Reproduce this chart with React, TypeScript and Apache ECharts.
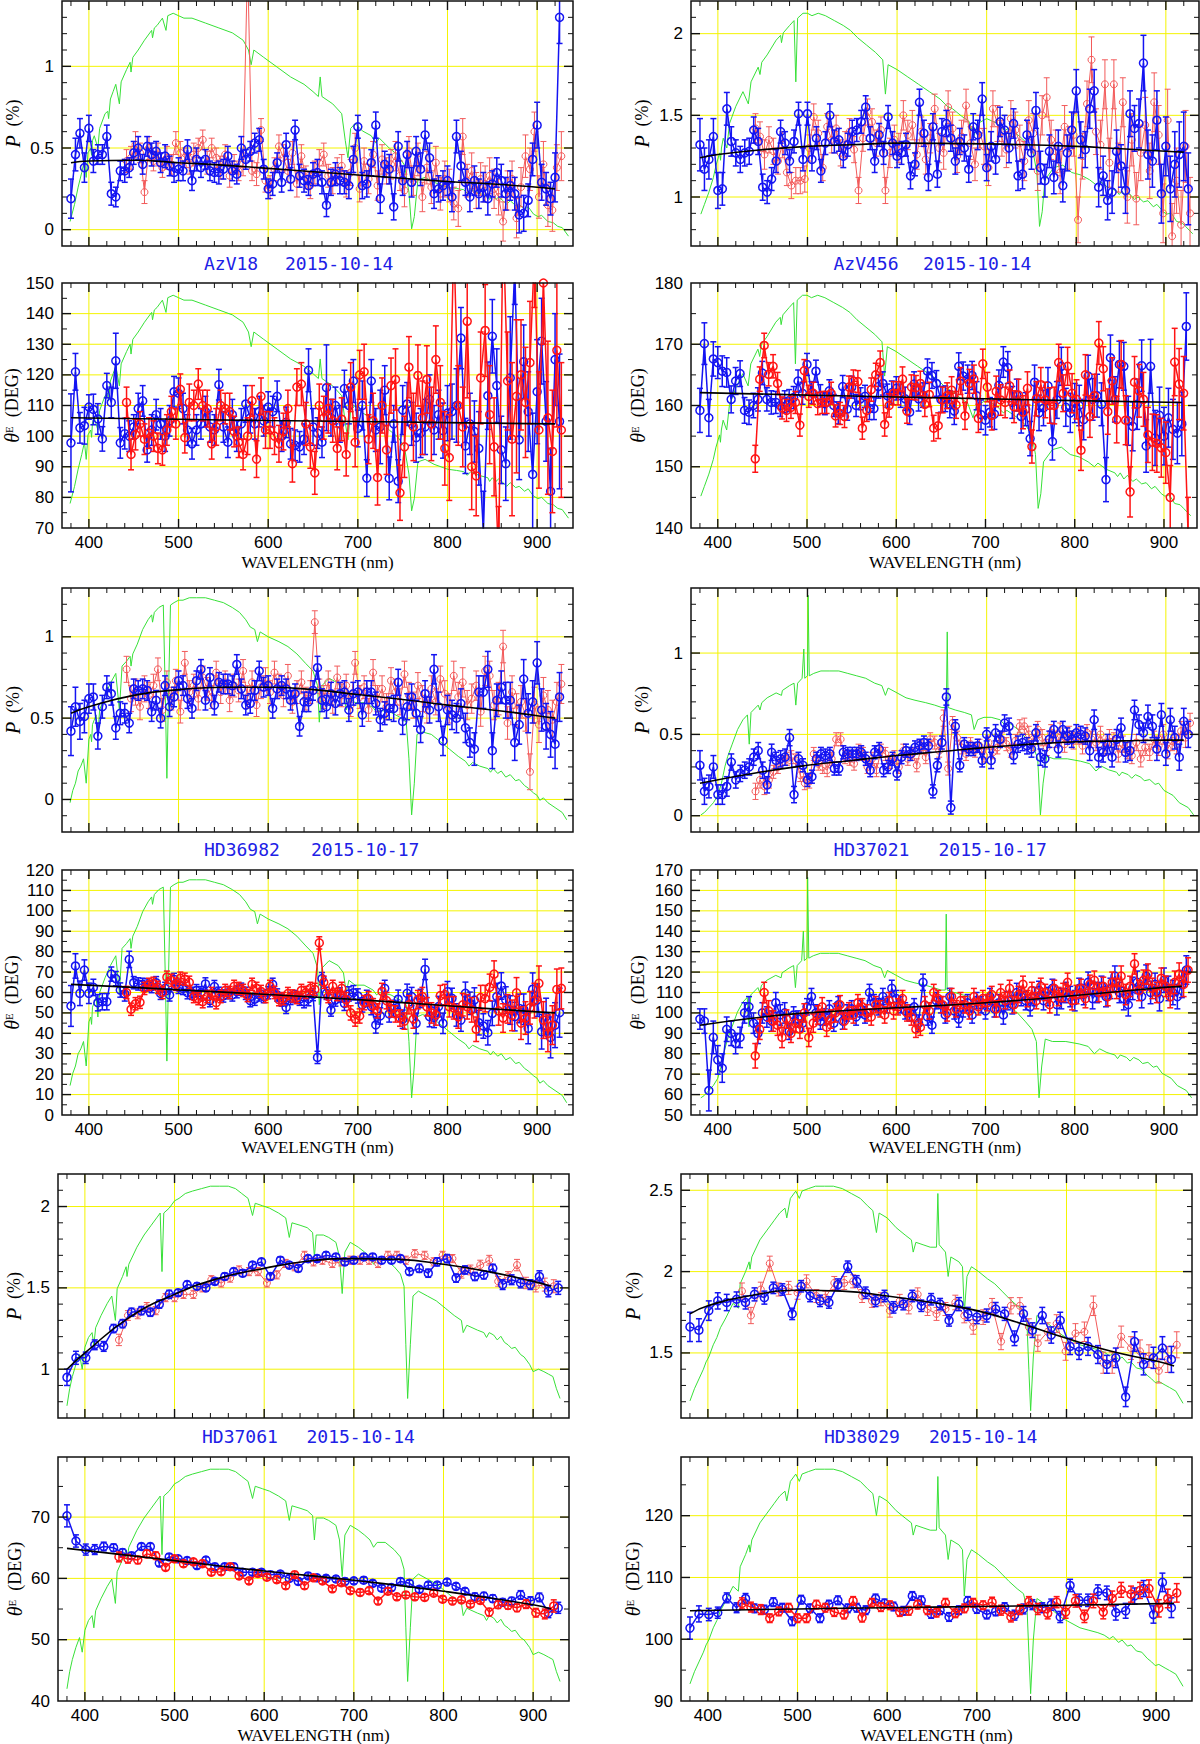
import React, { useEffect, useRef } from "react";
import * as echarts from "echarts";

// ---------------- wavelength grids (nm) ----------------
const WL5 = [
  380, 385, 390, 395, 400, 405, 410, 415, 420, 425, 430, 435, 440, 445, 450, 455, 460, 465, 470, 475,
  480, 485, 490, 495, 500, 505, 510, 515, 520, 525, 530, 535, 540, 545, 550, 555, 560, 565, 570, 575,
  580, 585, 590, 595, 600, 605, 610, 615, 620, 625, 630, 635, 640, 645, 650, 655, 660, 665, 670, 675,
  680, 685, 690, 695, 700, 705, 710, 715, 720, 725, 730, 735, 740, 745, 750, 755, 760, 765, 770, 775,
  780, 785, 790, 795, 800, 805, 810, 815, 820, 825, 830, 835, 840, 845, 850, 855, 860, 865, 870, 875,
  880, 885, 890, 895, 900, 905, 910, 915, 920, 925,
];
const WL5R = [
  442, 447, 452, 457, 462, 467, 472, 477, 482, 487, 492, 497, 502, 507, 512, 517, 522, 527, 532, 537,
  542, 547, 552, 557, 562, 567, 572, 577, 582, 587, 592, 597, 602, 607, 612, 617, 622, 627, 632, 637,
  642, 647, 652, 657, 662, 667, 672, 677, 682, 687, 692, 697, 702, 707, 712, 717, 722, 727, 732, 737,
  742, 747, 752, 757, 762, 767, 772, 777, 782, 787, 792, 797, 802, 807, 812, 817, 822, 827, 832, 837,
  842, 847, 852, 857, 862, 867, 872, 877, 882, 887, 892, 897, 902, 907, 912, 917, 922, 927,
];
const WL10B = [
  380, 390, 401, 411, 421, 432, 442, 452, 463, 473, 483, 494, 504, 514, 525, 535, 545, 556, 566, 576,
  587, 597, 607, 618, 628, 638, 649, 659, 669, 680, 690, 700, 711, 721, 731, 742, 752, 762, 773, 783,
  793, 804, 814, 824, 835, 845, 855, 866, 876, 886, 897, 907, 917, 928,
];
const WL10R = [
  438, 448, 459, 469, 479, 490, 500, 510, 521, 531, 541, 552, 562, 572, 583, 593, 603, 614, 624, 634,
  645, 655, 665, 676, 686, 696, 707, 717, 727, 738, 748, 758, 768, 779, 789, 799, 810, 820, 830, 841,
  851, 861, 872, 882, 892, 903, 913, 923,
];

// ---------------- AzV18 ----------------
const AZV18_P_B = [
  .19, .46, .59, .38, .62, .42, .46, .46, .57, .22, .20, .36, .36, .38, .47, .50, .40, .51, .46, .48,
  .41, .45, .39, .35, .37, .36, .49, .30, .43, .38, .43, .36, .35, .35, .37, .45, .36, .34, .50, .43,
  .48, .53, .55, .37, .25, .28, .41, .29, .52, .31, .61, .33, .30, .27, .34, .35, .29, .15, .29, .34,
  .30, .29, .27, .43, .63, .27, .28, .41, .64, .19, .40, .37, .14, .51, .30, .46, .29, .48, .37, .58,
  .44, .22, .25, .27, .30, .20, .57, .39, .29, .20, .30, .22, .26, .19, .28, .35, .30, .22, .27, .22,
  .09, .10, .18, .43, .64, .29, .25, .19, .32, 1.30,
];
const AZV18_P_BE = [
  .12, .10, .09, .09, .08, .07, .06, .06, .07, .07, .06, .06, .07, .06, .07, .07, .06, .06, .07, .06,
  .06, .07, .06, .06, .07, .06, .06, .06, .07, .06, .06, .06, .06, .07, .06, .06, .06, .06, .07, .06,
  .06, .06, .07, .06, .06, .07, .06, .06, .07, .07, .06, .07, .07, .06, .07, .08, .07, .07, .08, .07,
  .08, .07, .08, .08, .07, .08, .08, .08, .08, .09, .08, .09, .08, .09, .09, .08, .09, .09, .10, .09,
  .09, .09, .08, .09, .09, .09, .10, .09, .08, .09, .09, .09, .09, .10, .08, .09, .10, .10, .09, .10,
  .11, .11, .10, .10, .14, .11, .10, .10, .15, .16,
];
const AZV18_P_R = [
  .42, .44, .52, .47, .23, .50, .42, .46, .38, .44, .40, .53, .47, .44, .40, .46, .50, .55, .41, .50,
  .44, .38, .46, .33, .40, .36, .40, 1.65, .36, .34, .61, .30, .26, .37, .51, .44, .36, .47, .28, .45,
  .32, .27, .35, .41, .46, .33, .30, .36, .39, .28, .35, .50, .25, .42, .31, .46, .27, .43, .36, .40,
  .45, .33, .24, .48, .30, .43, .20, .38, .26, .41, .22, .31, .27, .16, .13, .57, .30, .36, .24, .31,
  .28, .33, .25, .20, .05, .24, .31, .07, .26, .45, .37, .60, .20, .40, .15, .12, .38, .45,
];
const AZV18_P_RE = [
  .07, .07, .08, .06, .07, .07, .06, .07, .06, .07, .06, .07, .07, .06, .06, .07, .06, .06, .07, .06,
  .06, .07, .06, .07, .06, .06, .07, .07, .06, .07, .07, .07, .07, .07, .07, .08, .07, .07, .08, .07,
  .07, .08, .07, .08, .07, .07, .08, .08, .07, .08, .08, .09, .08, .08, .09, .08, .09, .09, .08, .09,
  .09, .09, .10, .09, .09, .10, .09, .10, .10, .10, .10, .11, .10, .10, .11, .11, .10, .11, .11, .10,
  .11, .11, .12, .11, .12, .12, .11, .12, .12, .13, .13, .12, .13, .14, .13, .13, .14, .15,
];
const AZV18_T_B = [
  97.8, 121, 102.7, 103.4, 109.5, 108.7, 105.6, 99.1, 116.5, 111, 124.6, 97.8, 100.8, 100, 103, 109, 111.5, 95.5, 102, 107,
  104, 100, 105, 114.5, 114, 109, 102, 97.5, 102, 104, 108, 103, 102, 116.8, 103, 98, 107, 100, 104, 110.5,
  106, 104, 108, 105, 109.5, 108, 113, 100, 104.5, 97.5, 97, 96.5, 99, 121.5, 103, 101, 98, 115.8, 106, 110,
  104, 115.5, 110, 118, 102.5, 110, 86.3, 118, 102, 103, 115, 86.2, 104, 85.3, 108.5, 110.5, 104, 99.5, 101, 103,
  112, 102, 107, 101.8, 107.5, 108, 110, 132, 96.8, 104, 101.5, 96, 69, 113.2, 132.6, 116.5, 95.5, 91, 119, 155,
  98.8, 124.3, 108, 87.5, 114.5, 131, 104.8, 82, 125, 104.8,
];
const AZV18_T_BE = [
  16, 6, 5, 6, 4, 5, 5, 4, 4, 5, 9, 5, 5, 5, 4, 5, 5, 4, 5, 5,
  5, 5, 5, 5, 5, 5, 5, 5, 5, 5, 5, 5, 5, 5, 5, 5, 5, 5, 5, 6,
  5, 5, 5, 5, 5, 5, 5, 5, 5, 5, 5, 5, 5, 7, 6, 5, 5, 14, 6, 6,
  6, 6, 6, 7, 6, 8, 6, 7, 7, 12, 8, 7, 6, 7, 8, 7, 7, 8, 8, 9,
  8, 8, 8, 9, 9, 9, 12, 10, 9, 10, 10, 12, 13, 11, 12, 12, 11, 12, 20, 12,
  13, 12, 13, 20, 17, 14, 13, 14, 15, 22,
];
const AZV18_T_R = [
  111, 94, 100.5, 104, 99, 101, 100, 96, 95.5, 102, 108, 104, 115.3, 99.5, 111, 110, 117, 110, 109, 97.5,
  103, 110, 109, 108, 101.5, 98, 94, 100, 111.5, 92.5, 113, 102, 102, 100, 97.5, 101.5, 109, 91, 116, 117,
  104, 96.5, 88, 110, 106, 109, 105, 96, 105.5, 94, 116, 98, 120, 121, 99, 105, 86.5, 110, 95.5, 116.5,
  118.5, 81.5, 96.5, 122.5, 103, 119.8, 106, 118.5, 104, 125, 111, 96, 93, 165, 110, 103, 137.5, 90, 87, 119,
  134.5, 107, 96.5, 60, 170, 118, 99, 113, 120, 111, 124, 160, 102, 150, 106, 95, 128, 102,
];
const AZV18_T_RE = [
  5, 5, 5, 4, 5, 5, 5, 5, 5, 5, 5, 5, 5, 5, 6, 5, 5, 5, 6, 5,
  6, 5, 5, 6, 5, 5, 5, 6, 5, 6, 6, 6, 6, 6, 6, 6, 6, 6, 6, 7,
  7, 7, 7, 7, 7, 8, 7, 7, 7, 7, 8, 8, 8, 9, 8, 9, 9, 9, 8, 9,
  10, 9, 10, 10, 11, 10, 12, 11, 12, 11, 12, 12, 14, 12, 13, 13, 25, 14, 13, 15,
  15, 16, 16, 17, 15, 16, 25, 25, 18, 18, 20, 18, 19, 20, 25, 20, 25, 22,
];

// ---------------- AzV456 ----------------
const AZV456_P_B = [
  1.32, 1.17, 1.23, 1.37, 1.04, 1.05, 1.54, 1.34, 1.27, 1.23, 1.27, 1.28, 1.41, 1.34, 1.06, 1.03, 1.11, 1.22, 1.40, 1.33,
  1.22, 1.34, 1.51, 1.23, 1.51, 1.23, 1.36, 1.16, 1.33, 1.50, 1.34, 1.35, 1.25, 1.32, 1.40, 1.41, 1.46, 1.55, 1.36, 1.22,
  1.38, 1.27, 1.49, 1.33, 1.25, 1.27, 1.32, 1.13, 1.20, 1.58, 1.39, 1.12, 1.43, 1.14, 1.40, 1.45, 1.36, 1.22, 1.34, 1.30,
  1.17, 1.43, 1.38, 1.60, 1.18, 1.31, 1.23, 1.46, 1.41, 1.30, 1.45, 1.13, 1.14, 1.38, 1.27, 1.53, 1.18, 1.10, 1.28, 1.12,
  1.31, 1.07, 1.27, 1.41, 1.65, 1.35, 1.29, 1.54, 1.65, 1.06, 1.13, 0.98, 1.03, 1.28, 1.19, 1.04, 1.51, 1.42, 1.45, 1.82,
  1.26, 1.22, 1.47, 1.02, 1.31, 1.05, 1.20, 1.26, 1.31, 1.05,
];
const AZV456_P_BE = [
  .16, .13, .12, .11, .11, .10, .10, .09, .08, .08, .08, .08, .08, .08, .08, .07, .07, .07, .07, .07,
  .07, .07, .07, .07, .07, .07, .07, .07, .07, .07, .07, .07, .07, .07, .07, .07, .07, .07, .07, .07,
  .07, .07, .07, .07, .07, .07, .07, .08, .07, .08, .08, .08, .08, .08, .08, .08, .08, .08, .08, .08,
  .08, .08, .09, .10, .08, .09, .09, .09, .09, .09, .09, .09, .09, .09, .10, .11, .10, .10, .10, .10,
  .10, .10, .11, .11, .13, .11, .11, .12, .13, .12, .12, .12, .13, .13, .13, .14, .14, .14, .15, .17,
  .15, .16, .18, .18, .18, .20, .20, .20, .21, .22,
];
const AZV456_P_R = [
  1.42, 1.37, 1.26, 1.35, 1.28, 1.22, 1.32, 1.15, 1.07, 1.10, 1.10, 1.11, 1.30, 1.49, 1.39, 1.18, 1.43, 1.35, 1.42, 1.27,
  1.32, 1.40, 1.29, 1.04, 1.36, 1.52, 1.46, 1.33, 1.41, 1.04, 1.27, 1.35, 1.30, 1.50, 1.38, 1.44, 1.26, 1.40, 1.23, 1.36,
  1.54, 1.30, 1.27, 1.55, 1.42, 1.25, 1.37, 1.56, 1.33, 1.20, 1.40, 1.31, 1.18, 1.54, 1.45, 1.36, 1.29, 1.48, 1.41, 1.33,
  1.22, 1.47, 1.39, 1.16, 1.50, 1.61, 1.35, 1.28, 1.15, 1.43, 1.30, 1.38, 0.86, 1.25, 1.57, 1.84, 1.40, 1.32, 1.69, 1.21,
  1.69, 1.18, 1.58, 1.00, 1.35, 0.99, 1.27, 1.44, 1.16, 1.58, 1.38, 0.90, 1.47, 0.76, 1.10, 0.83, 1.31, 0.90,
];
const AZV456_P_RE = [
  .09, .09, .09, .08, .08, .08, .08, .08, .08, .08, .08, .08, .08, .08, .08, .08, .08, .08, .08, .08,
  .08, .08, .08, .08, .08, .08, .08, .08, .08, .08, .09, .09, .09, .09, .09, .09, .09, .09, .09, .09,
  .09, .09, .10, .10, .10, .10, .10, .10, .10, .10, .10, .11, .11, .11, .11, .11, .11, .11, .11, .11,
  .12, .12, .12, .12, .12, .12, .12, .13, .13, .13, .13, .13, .14, .14, .14, .14, .14, .15, .15, .15,
  .15, .15, .15, .16, .16, .16, .17, .17, .17, .18, .18, .18, .19, .20, .20, .21, .22, .22,
];
const AZV456_T_B = [
  159.2, 170.1, 158, 167.6, 167, 165.6, 165.4, 161, 164, 165.2, 159.2, 158.9, 160, 161, 165.3, 161, 160.5, 160.5, 160, 160.6,
  160.8, 161.3, 164, 162, 166.7, 162.1, 165.6, 161.6, 160.3, 162.4, 160, 158.8, 163.1, 159.4, 163, 160, 161.1, 161.5, 159.5, 159.5,
  163.1, 163.6, 161.6, 162.1, 162.8, 161.6, 161.1, 158.9, 163.5, 161.1, 161.7, 165.6, 164.9, 163.6, 161, 161.1, 160.2, 159.1, 166.4, 164.8,
  164.3, 164.9, 161.6, 158.5, 157.6, 158.9, 158.6, 163.3, 167.1, 166.2, 160.5, 161.7, 158.2, 159.4, 154.6, 163.8, 158.8, 159.6, 163.2, 154.1,
  160.9, 166.4, 159.7, 158.8, 160.4, 160, 157.7, 164.8, 161, 161.6, 160.2, 147.9, 167.8, 161, 166.7, 166.4, 157.5, 156.6, 160.2, 166.5,
  153.4, 166.4, 154.7, 158.4, 155, 158, 156.1, 155.5, 157, 172.9,
];
const AZV456_T_BE = [
  3.6, 3.4, 3, 2.8, 2.6, 2.5, 2.4, 2.2, 2.2, 2.1, 2.1, 2, 2, 1.9, 1.9, 1.9, 1.9, 1.8, 1.8, 1.8,
  1.8, 1.8, 1.8, 1.8, 1.8, 1.8, 1.8, 1.8, 1.8, 1.8, 1.8, 1.8, 1.8, 1.8, 1.8, 1.8, 1.8, 1.8, 1.8, 1.8,
  1.9, 1.9, 1.9, 1.9, 1.9, 1.9, 1.9, 2, 2, 2, 2, 2, 2.1, 2.1, 2.1, 2.1, 2.2, 2.2, 2.2, 2.3,
  2.3, 2.3, 2.3, 2.4, 2.4, 2.4, 2.5, 2.5, 2.5, 2.6, 2.6, 2.6, 2.7, 2.7, 2.8, 2.8, 2.9, 2.9, 3, 3,
  3, 3.1, 3.1, 3.2, 3.2, 3.3, 3.3, 3.4, 3.4, 3.5, 3.5, 3.6, 3.7, 3.7, 3.8, 3.9, 4, 4, 4.1, 4.2,
  4.3, 4.4, 4.5, 4.6, 4.7, 4.8, 4.9, 5, 5.2, 5.5,
];
const AZV456_T_R = [
  151.3, 164.3, 169.8, 165.1, 166.4, 163.6, 159.6, 159.2, 159.7, 160.5, 156.8, 165.7, 161.5, 162, 160.3, 160.5, 160.5, 162, 158.3, 158.7,
  158.2, 163, 164, 163.9, 156.3, 159.2, 162.6, 165, 167, 156.9, 160, 162, 162, 164.3, 159.1, 163, 162.9, 163.6, 160.2, 161.8,
  156.3, 156.7, 160.9, 161.6, 162.5, 160.1, 164, 158.3, 163.6, 164.3, 157.9, 166.8, 163, 158.4, 162.3, 160.9, 160.5, 163.2, 159.8, 161.7,
  158.9, 162.8, 153.3, 161.1, 163.4, 160.9, 160, 160, 167, 162, 166.4, 162, 161, 152.7, 165, 158.2, 161.6, 170.2, 166, 159,
  164, 157.7, 166.7, 157.6, 145.9, 163.8, 162.4, 161, 155.2, 154, 153.8, 153.1, 152.3, 145, 167.1, 163.5, 162, 139,
];
const AZV456_T_RE = [
  2.2, 2, 2, 1.9, 1.9, 1.8, 1.8, 1.8, 1.8, 1.8, 1.8, 1.8, 1.8, 1.8, 1.8, 1.8, 1.8, 1.8, 1.8, 1.8,
  1.8, 1.8, 1.8, 1.8, 1.8, 1.8, 1.9, 1.9, 1.9, 1.9, 1.9, 1.9, 1.9, 2, 2, 2, 2, 2, 2, 2,
  2.1, 2.1, 2.1, 2.1, 2.2, 2.2, 2.2, 2.2, 2.3, 2.3, 2.3, 2.4, 2.4, 2.4, 2.5, 2.5, 2.5, 2.6, 2.6, 2.6,
  2.7, 2.7, 2.7, 2.8, 2.8, 2.9, 2.9, 3, 3, 3, 3.1, 3.2, 3.2, 3.3, 3.3, 3.4, 3.5, 3.5, 3.6, 3.7,
  3.8, 3.8, 3.9, 4, 4.1, 4.2, 4.3, 4.4, 4.5, 4.6, 4.7, 4.8, 5, 5.2, 5.5, 5.8, 6, 6,
];

// ---------------- HD36982 ----------------
const HD36982_P_B = [
  .42, .57, .48, .51, .62, .63, .39, .57, .69, .65, .44, .53, .53, .47, .68, .67, .68, .67, .54, .61,
  .50, .70, .57, .63, .73, .70, .62, .56, .73, .80, .61, .75, .58, .72, .71, .71, .70, .83, .68, .58,
  .59, .67, .79, .69, .70, .56, .68, .70, .68, .61, .65, .45, .60, .60, .67, .81, .61, .57, .65, .59,
  .65, .66, .55, .65, .66, .52, .66, .66, .59, .49, .53, .56, .56, .72, .48, .57, .63, .53, .43, .65,
  .55, .80, .57, .36, .55, .52, .50, .59, .44, .35, .31, .66, .66, .80, .30, .61, .69, .61, .61, .35,
  .46, .74, .53, .60, .84, .55, .45, .40, .34, .63,
];
const HD36982_P_BE = [
  .15, .12, .11, .10, .09, .08, .08, .07, .07, .07, .07, .07, .06, .06, .06, .06, .06, .06, .06, .06,
  .06, .06, .06, .06, .06, .06, .06, .06, .06, .06, .06, .06, .06, .06, .06, .06, .06, .06, .06, .06,
  .06, .06, .06, .06, .06, .06, .06, .06, .06, .06, .06, .06, .06, .06, .06, .07, .07, .07, .07, .07,
  .07, .07, .07, .07, .07, .07, .07, .07, .07, .07, .07, .07, .08, .08, .08, .08, .08, .08, .08, .08,
  .08, .09, .09, .09, .09, .09, .09, .09, .09, .09, .10, .10, .10, .11, .11, .10, .10, .11, .11, .11,
  .12, .12, .12, .13, .13, .13, .14, .14, .15, .15,
];
const HD36982_P_R = [
  .80, .62, .66, .57, .68, .64, .70, .80, .55, .72, .62, .73, .54, .84, .66, .70, .62, .75, .68, .63,
  .78, .66, .72, .61, .70, .67, .79, .63, .72, .58, .69, .74, .66, .78, .70, .64, .76, .60, .66, .72,
  .62, .66, 1.09, .67, .63, .72, .60, .75, .64, .70, .58, .84, .63, .69, .55, .78, .62, .68, .57, .73,
  .66, .60, .77, .64, .58, .70, .62, .55, .68, .60, .74, .65, .56, .76, .63, .72, .58, .62, .70, .54,
  .79, .76, .58, .62, .94, .47, .66, .55, .60, .52, .17, .58, .46, .64, .55, .49, .60, .71,
];
const HD36982_P_RE = [
  .08, .08, .08, .08, .08, .08, .07, .07, .07, .07, .07, .07, .07, .07, .07, .07, .07, .07, .07, .07,
  .07, .07, .07, .07, .07, .07, .07, .07, .07, .07, .07, .07, .07, .07, .07, .07, .07, .07, .07, .07,
  .07, .07, .07, .07, .07, .07, .07, .07, .07, .07, .07, .07, .07, .07, .07, .08, .08, .08, .08, .08,
  .08, .08, .08, .08, .08, .08, .08, .08, .08, .08, .08, .08, .09, .09, .09, .09, .09, .09, .09, .09,
  .09, .09, .09, .10, .10, .10, .10, .10, .10, .10, .11, .11, .11, .11, .12, .12, .12, .12,
];
const HD36982_T_B = [
  53.4, 73, 59.6, 71, 59.6, 62.5, 55, 55.5, 55.5, 69, 66.8, 61.2, 59.3, 76.2, 64.8, 64.2, 64, 63.7, 62.9, 64.8,
  59.6, 62, 58.8, 66.4, 62.5, 62, 59.9, 59.6, 60.9, 59.9, 64.2, 56, 62.9, 59.6, 58.3, 59.9, 58.8, 60.4, 61.6, 59.6,
  56, 56.7, 58.8, 58, 59.9, 64, 58.8, 56.3, 52.7, 57.1, 58, 56.7, 55.5, 57, 59, 28.2, 66.8, 59.6, 51.4, 56.3,
  58.8, 54.7, 59.3, 59.9, 58.3, 53.9, 57.1, 53.1, 44.1, 48.5, 62, 49.5, 52.2, 56.7, 46.9, 59.6, 58, 44.9, 57.1, 71.3,
  48.2, 47.8, 53.1, 44.9, 60.4, 57.1, 49, 46.5, 59.6, 54.7, 56.3, 45.2, 43.6, 40.3, 49.8, 58, 63.2, 56.3, 51.4, 48.2,
  52.2, 51.8, 42.4, 61.6, 56.3, 40.8, 48.2, 38, 44, 50.1,
];
const HD36982_T_BE = [
  10, 6, 6, 5, 5, 4, 4, 4, 4, 3.5, 3.5, 3.5, 3.5, 4, 3, 3, 3, 3, 3, 3,
  3, 3, 3, 3, 3, 3, 3, 3, 3, 3, 3, 3, 3, 3, 3, 3, 3, 3, 3, 3,
  3, 3, 3, 3, 3, 3, 3, 3, 3, 3, 3, 3, 3, 3.5, 3, 3, 3, 3, 3, 3,
  3.5, 3.5, 3.5, 3.5, 3.5, 3.5, 4, 4, 4, 4, 4, 4, 4, 4.5, 4.5, 4.5, 4.5, 5, 4.5, 5,
  5, 5, 5, 5, 5, 5, 5.5, 5.5, 5.5, 5.5, 6, 6, 6, 6, 6, 6.5, 6.5, 6.5, 7, 7,
  7, 7.5, 7.5, 8, 8, 8.5, 9, 10, 11, 12,
];
const HD36982_T_R = [
  60, 51.8, 54.5, 55.2, 62, 64, 64.5, 62.5, 60, 67.5, 66, 64, 67, 66.5, 65, 58, 57, 55.5, 58, 59.5,
  55, 58, 61, 60, 63, 62, 61, 58.5, 64, 62, 60.5, 58, 63, 60, 56.5, 57, 59.5, 58.3, 57.5, 61,
  60, 62, 61.5, 84.3, 65, 58, 63, 59, 62, 56.5, 50, 47, 48.5, 55, 57, 53.5, 51, 60.5, 56, 52,
  49.5, 47.5, 46, 54, 47, 56.5, 58, 53, 50, 49, 58.5, 59, 53, 52.5, 48, 54, 53, 51.5, 42, 57.5,
  57, 62.5, 69, 51, 47.5, 52, 48.8, 59.8, 45, 47.5, 52.5, 56, 64.5, 46.5, 40, 44, 61.5, 62,
];
const HD36982_T_RE = [
  3, 3, 3, 3, 3, 3, 3, 3, 3, 3, 3, 3, 3, 3, 3, 3, 3, 3, 3, 3,
  3, 3, 3, 3, 3, 3, 3, 3, 3, 3, 3, 3, 3, 3, 3, 3, 3, 3, 3, 3,
  3, 3, 3, 3, 3, 3, 3, 3, 3, 3.5, 3.5, 3.5, 3.5, 3.5, 3.5, 3.5, 3.5, 4, 4, 4,
  4, 4, 4, 4.5, 4.5, 4.5, 4.5, 4.5, 5, 5, 5, 5, 5, 5.5, 5.5, 5.5, 6, 6, 6, 6,
  6.5, 6.5, 6.5, 7, 7, 7, 7.5, 7.5, 8, 8, 8, 8.5, 8.5, 9, 9, 9.5, 10, 10,
];

// ---------------- HD37021 ----------------
const HD37021_P_B = [
  .31, .15, .18, .30, .13, .13, .18, .33, .22, .26, .28, .30, .36, .40, .28, .19, .39, .34, .35, .36,
  .48, .13, .35, .31, .22, .24, .35, .38, .37, .38, .29, .29, .39, .38, .38, .38, .39, .35, .28, .39,
  .41, .28, .30, .35, .26, .36, .40, .38, .42, .43, .45, .43, .15, .31, .45, .73, .05, .55, .31, .44,
  .41, .41, .43, .34, .50, .34, .51, .47, .57, .55, .37, .44, .45, .43, .41, .51, .36, .35, .47, .53,
  .41, .53, .49, .47, .51, .50, .49, .40, .59, .36, .39, .44, .36, .47, .54, .39, .40, .65, .56, .51,
  .61, .55, .41, .62, .38, .59, .48, .36, .58, .50,
];
const HD37021_P_BE = [
  .09, .08, .07, .07, .06, .06, .06, .05, .05, .05, .05, .05, .05, .05, .05, .05, .05, .05, .05, .05,
  .05, .05, .04, .04, .04, .04, .04, .04, .04, .04, .04, .04, .04, .04, .04, .04, .04, .04, .04, .04,
  .04, .04, .04, .04, .04, .04, .04, .04, .04, .04, .04, .04, .04, .04, .04, .05, .04, .04, .04, .04,
  .04, .04, .04, .04, .04, .05, .05, .05, .05, .05, .05, .05, .05, .05, .05, .05, .05, .05, .05, .05,
  .05, .05, .05, .05, .05, .05, .05, .06, .06, .06, .06, .06, .06, .06, .06, .06, .06, .06, .06, .06,
  .07, .07, .07, .07, .07, .07, .07, .08, .08, .08,
];
const HD37021_P_R = [
  .15, .22, .18, .22, .27, .30, .33, .35, .36, .34, .25, .20, .21, .38, .32, .30, .28, .35, .47, .47,
  .36, .35, .32, .40, .38, .30, .35, .28, .40, .38, .33, .36, .30, .40, .35, .38, .31, .42, .36, .47,
  .45, .40, .60, .29, .57, .48, .42, .38, .44, .40, .43, .37, .45, .39, .42, .47, .44, .40, .46, .55,
  .55, .50, .45, .53, .48, .42, .51, .47, .52, .44, .50, .46, .49, .43, .51, .47, .45, .50, .42, .48,
  .46, .38, .44, .40, .37, .45, .35, .42, .39, .47, .43, .50, .41, .46, .44, .52, .48, .57,
];
const HD37021_P_RE = [
  .05, .05, .05, .05, .04, .04, .04, .04, .04, .04, .04, .04, .04, .04, .04, .04, .04, .04, .04, .04,
  .04, .04, .04, .04, .04, .04, .04, .04, .04, .04, .04, .04, .04, .04, .04, .04, .04, .04, .04, .04,
  .04, .04, .05, .04, .04, .04, .04, .04, .04, .04, .04, .04, .04, .04, .04, .04, .04, .04, .04, .04,
  .05, .05, .05, .05, .05, .05, .05, .05, .05, .05, .05, .05, .05, .05, .05, .05, .05, .05, .05, .05,
  .05, .05, .05, .05, .05, .05, .05, .05, .05, .05, .06, .06, .06, .06, .06, .06, .06, .06,
];
const HD37021_T_B = [
  97, 96, 62, 88, 77, 73, 92, 90, 85, 88, 100, 103, 95, 90, 100, 98, 96, 105, 99, 100,
  91, 99, 97, 95, 103, 108, 100, 96, 98, 102, 95, 104, 96, 100, 102, 98, 102, 99, 110, 105,
  103, 108, 104, 112, 107, 104, 101, 100, 103, 95, 115, 98, 94, 106, 104, 99, 108, 101, 97, 102,
  105, 99, 106, 104, 101, 108, 102, 105, 99, 106, 104, 110, 108, 106, 103, 108, 111, 106, 108, 112,
  104, 107, 110, 108, 106, 112, 109, 115, 107, 110, 113, 108, 112, 118, 110, 107, 104, 112, 115, 108,
  118, 110, 114, 107, 116, 112, 110, 108, 114, 121,
];
const HD37021_T_BE = [
  5, 6, 10, 8, 7, 7, 6, 6, 5, 5, 5, 5, 5, 5, 5, 5, 5, 5, 5, 5,
  4, 4, 4, 4, 4, 4, 4, 4, 4, 4, 4, 4, 4, 4, 4, 4, 4, 4, 4, 4,
  4, 4, 4, 4, 4, 4, 4, 4, 4, 4, 4, 4, 4, 4, 4, 4, 4, 4, 4, 4,
  4, 4, 4, 4, 4, 4, 4, 4, 4.5, 4.5, 4.5, 4.5, 4.5, 4.5, 4.5, 4.5, 4.5, 4.5, 4.5, 4.5,
  5, 5, 5, 5, 5, 5, 5, 5, 5, 5, 5, 5, 5, 5, 5, 5.5, 5.5, 5.5, 5.5, 5.5,
  5.5, 5.5, 5.5, 6, 6, 6, 6, 6, 6.5, 7,
];
const HD37021_T_R = [
  79, 92, 110, 101, 96, 94, 88, 97, 90, 95, 92, 100, 88, 95, 99, 103, 93, 97, 100, 104,
  96, 101, 99, 105, 103, 100, 98, 104, 102, 99, 106, 101, 103, 107, 100, 98, 92, 93, 104, 101,
  110, 107, 104, 100, 108, 102, 106, 104, 101, 108, 103, 107, 105, 109, 102, 110, 106, 112, 104, 109,
  114, 107, 111, 106, 113, 110, 104, 112, 108, 110, 115, 106, 109, 112, 107, 114, 116, 110, 113, 108,
  115, 112, 118, 109, 113, 124, 111, 116, 119, 112, 110, 117, 113, 108, 115, 119, 114, 121,
];
const HD37021_T_RE = [
  6, 5, 5, 5, 5, 5, 5, 4.5, 4.5, 4.5, 4.5, 4.5, 4.5, 4.5, 4.5, 4.5, 4.5, 4.5, 4.5, 4.5,
  4, 4, 4, 4, 4, 4, 4, 4, 4, 4, 4, 4, 4, 4, 4, 4, 4, 4, 4, 4,
  4, 4, 4, 4, 4, 4, 4, 4, 4, 4, 4, 4, 4, 4, 4, 4, 4, 4, 4, 4,
  4, 4, 4, 4, 4, 4, 4, 4, 4.5, 4.5, 4.5, 4.5, 4.5, 4.5, 4.5, 4.5, 4.5, 4.5, 4.5, 4.5,
  5, 5, 5, 5, 5, 5, 5, 5, 5, 5, 5, 5, 5, 5.5, 5.5, 5.5, 6, 6,
];

// ---------------- HD37061 ----------------
const HD37061_P_B = [
  0.95, 1.07, 1.07, 1.15, 1.14, 1.25, 1.28, 1.35, 1.36, 1.35, 1.40, 1.46, 1.47, 1.52, 1.51, 1.50, 1.54, 1.57, 1.60, 1.59,
  1.64, 1.66, 1.57, 1.67, 1.64, 1.62, 1.68, 1.68, 1.70, 1.69, 1.66, 1.67, 1.69, 1.69, 1.67, 1.67, 1.68, 1.60, 1.62, 1.59,
  1.66, 1.68, 1.56, 1.61, 1.57, 1.58, 1.62, 1.52, 1.55, 1.53, 1.52, 1.57, 1.48, 1.50,
];
const HD37061_P_BE = [
  .05, .04, .035, .03, .03, .025, .025, .025, .025, .025, .025, .025, .02, .02, .02, .02, .02, .02, .02, .02,
  .02, .02, .02, .02, .02, .02, .02, .02, .02, .02, .02, .02, .02, .02, .02, .02, .02, .02, .025, .025,
  .025, .025, .025, .025, .025, .025, .025, .03, .03, .03, .03, .035, .035, .04,
];
const HD37061_P_R = [
  1.18, 1.33, 1.34, 1.38, 1.36, 1.44, 1.44, 1.46, 1.46, 1.50, 1.55, 1.53, 1.56, 1.61, 1.60, 1.60, 1.53, 1.58, 1.65, 1.63,
  1.70, 1.66, 1.67, 1.65, 1.66, 1.67, 1.67, 1.67, 1.65, 1.70, 1.70, 1.67, 1.71, 1.70, 1.66, 1.70, 1.68, 1.59, 1.61, 1.64,
  1.67, 1.54, 1.57, 1.64, 1.53, 1.51, 1.52, 1.51,
];
const HD37061_P_RE = [
  .035, .03, .03, .03, .025, .025, .025, .025, .025, .025, .025, .025, .025, .025, .025, .025, .025, .025, .025, .025,
  .025, .025, .025, .025, .025, .025, .025, .025, .025, .025, .025, .025, .025, .025, .025, .025, .025, .03, .03, .03,
  .03, .03, .03, .035, .035, .035, .04, .04,
];
const HD37061_T_B = [
  70.2, 66.1, 64.7, 64.7, 65.2, 65.0, 64.2, 63.7, 65.2, 65.2, 62.5, 63.5, 63.2, 62.9, 62.1, 63.0, 61.9, 61.9, 61.9, 61.0,
  61.0, 61.0, 60.6, 60.7, 60.0, 59.5, 60.4, 60.1, 60.0, 59.9, 59.5, 59.6, 59.7, 59.2, 58.4, 58.5, 59.5, 59.2, 58.2, 58.9,
  58.9, 59.4, 58.7, 57.9, 57.0, 57.1, 56.7, 56.1, 56.3, 57.3, 56.3, 56.9, 54.4, 55.2,
];
const HD37061_T_BE = [
  1.8, 1.0, .9, .8, .7, .6, .6, .5, .5, .5, .5, .5, .5, .5, .5, .5, .5, .5, .5, .5,
  .5, .5, .5, .5, .5, .5, .5, .5, .5, .5, .5, .5, .5, .5, .5, .5, .5, .5, .5, .5,
  .5, .5, .5, .5, .6, .6, .6, .6, .6, .7, .7, .7, .8, .9,
];
const HD37061_T_R = [
  63.5, 63.2, 63.0, 64.0, 63.7, 61.8, 63.2, 62.4, 62.7, 62.4, 61.0, 61.1, 61.9, 60.4, 59.6, 60.8, 60.2, 59.8, 58.8, 60.6,
  58.8, 60.1, 59.6, 58.3, 59.3, 58.0, 57.7, 58.0, 56.3, 57.9, 57.0, 57.3, 57.0, 56.9, 57.6, 56.6, 56.3, 56.5, 55.8, 56.4,
  54.5, 55.7, 55.6, 55.2, 55.8, 54.4, 54.2, 55.5,
];
const HD37061_T_RE = [
  .8, .7, .6, .6, .6, .5, .5, .5, .5, .5, .5, .5, .5, .5, .5, .5, .5, .5, .5, .5,
  .5, .5, .5, .5, .5, .5, .5, .5, .5, .5, .5, .5, .5, .5, .5, .5, .5, .5, .5, .5,
  .6, .6, .6, .6, .7, .7, .8, 1.0,
];

// ---------------- HD38029 ----------------
const HD38029_P_B = [
  1.66, 1.64, 1.76, 1.82, 1.81, 1.83, 1.81, 1.86, 1.84, 1.90, 1.89, 1.74, 1.91, 1.85, 1.82, 1.81, 1.92, 2.03, 1.94, 1.87,
  1.82, 1.85, 1.78, 1.80, 1.85, 1.79, 1.83, 1.80, 1.70, 1.80, 1.74, 1.72, 1.73, 1.77, 1.74, 1.59, 1.74, 1.64, 1.73, 1.61,
  1.70, 1.54, 1.51, 1.54, 1.49, 1.43, 1.47, 1.23, 1.57, 1.43, 1.47, 1.53, 1.46,
];
const HD38029_P_BE = [
  .09, .07, .06, .05, .05, .045, .04, .04, .04, .035, .035, .035, .035, .035, .035, .035, .035, .035, .035, .035,
  .035, .035, .035, .035, .035, .035, .035, .035, .035, .04, .04, .04, .04, .04, .04, .045, .045, .045, .05, .05,
  .05, .05, .05, .055, .055, .055, .06, .06, .06, .065, .065, .07, .08,
];
const HD38029_P_R = [
  1.88, 1.73, 1.89, 2.05, 1.89, 1.90, 1.87, 1.94, 1.85, 1.84, 1.93, 1.93, 1.94, 1.85, 1.82, 1.83, 1.76, 1.82, 1.78, 1.86,
  1.77, 1.74, 1.77, 1.81, 1.73, 1.66, 1.72, 1.79, 1.57, 1.79, 1.79, 1.66, 1.56, 1.63, 1.68, 1.51, 1.62, 1.63, 1.79, 1.44,
  1.44, 1.60, 1.53, 1.51, 1.48, 1.39, 1.46, 1.55,
];
const HD38029_P_RE = [
  .05, .05, .045, .045, .04, .04, .04, .04, .04, .04, .04, .04, .04, .04, .04, .04, .04, .04, .04, .04,
  .04, .04, .04, .045, .045, .045, .045, .045, .05, .05, .05, .05, .05, .055, .055, .055, .06, .06, .06, .065,
  .065, .065, .07, .07, .07, .075, .08, .08,
];
const HD38029_T_B = [
  101.8, 104.1, 104.0, 104.3, 106.7, 105.1, 106.6, 105.0, 104.8, 106.0, 105.1, 102.9, 106.4, 105.0, 103.4, 105.6, 106.3, 105.0, 105.1, 104.7,
  106.6, 105.8, 105.3, 104.6, 107.0, 106.3, 104.1, 104.7, 103.6, 104.7, 106.2, 104.9, 104.0, 104.5, 105.2, 103.9, 104.9, 105.6, 105.1, 105.6,
  103.6, 108.7, 106.3, 106.3, 107.7, 107.5, 104.3, 104.6, 107.0, 108.2, 104.0, 109.2, 105.1,
];
const HD38029_T_BE = [
  1.8, 1.3, 1.0, .9, .8, .8, .8, .7, .7, .7, .7, .7, .7, .7, .7, .7, .7, .7, .7, .7,
  .7, .7, .7, .7, .7, .7, .7, .7, .7, .7, .7, .7, .7, .7, .7, .8, .8, .8, .8, .9,
  .9, 1.0, 1.0, 1.0, 1.1, 1.1, 1.2, 1.2, 1.3, 1.3, 1.4, 1.5, 1.6,
];
const HD38029_T_R = [
  105.8, 105.2, 104.8, 103.4, 104.5, 105.1, 103.4, 103.4, 105.6, 105.1, 104.4, 104.0, 106.2, 103.5, 105.9, 105.2, 105.5, 104.4, 104.6, 105.6,
  104.7, 104.3, 105.9, 104.2, 105.0, 105.9, 105.5, 106.0, 104.7, 103.6, 104.8, 106.1, 104.9, 104.2, 106.0, 104.4, 106.2, 103.7, 106.2, 104.4,
  106.6, 108.0, 107.3, 107.9, 108.2, 105.0, 106.6, 107.5,
];
const HD38029_T_RE = [
  .9, .8, .8, .7, .7, .7, .7, .7, .7, .7, .7, .7, .7, .7, .7, .7, .7, .7, .7, .7,
  .7, .7, .7, .7, .7, .7, .7, .8, .8, .8, .8, .8, .9, .9, .9, 1.0, 1.0, 1.0, 1.1, 1.1,
  1.2, 1.2, 1.3, 1.3, 1.4, 1.4, 1.5, 1.5,
];

// ---------------- relative flux spectra [nm, fraction of panel height] ----------------
const SPEC_AZV18 = [
  [379, .1], [384, .17], [388, .24], [392, .3], [395, .35], [397, .28], [399, .38], [402, .4], [403, .37], [404, .43],
  [406, .45], [410, .4], [412, .48], [418, .54], [421, .55], [422, .52], [424, .6], [427, .63], [430, .66], [434, .58],
  [436, .67], [442, .72], [446, .75], [447, .71], [449, .77], [455, .8], [462, .84], [470, .88], [471, .85], [473, .89],
  [476, .9], [482, .93], [486, .88], [488, .94], [494, .95], [500, .94], [506, .93], [515, .93], [530, .91], [545, .89],
  [560, .87], [572, .84], [578, .8], [581, .74], [584, .8], [595, .77], [610, .73], [625, .69], [640, .66], [650, .63],
  [656, .61], [658, .69], [660, .61], [672, .58], [682, .54], [686, .43], [689, .36], [692, .48], [697, .5], [705, .47],
  [715, .45], [720, .42], [724, .44], [735, .4], [745, .37], [752, .33], [757, .22], [760, .07], [763, .12], [767, .27],
  [775, .28], [785, .26], [800, .24], [810, .235], [818, .23], [822, .215], [826, .23], [835, .215], [845, .205], [847, .19],
  [850, .205], [854, .19], [857, .2], [862, .185], [866, .17], [870, .185], [876, .165], [880, .17], [886, .15], [890, .16],
  [896, .13], [901, .12], [905, .125], [912, .1], [918, .095], [923, .08], [928, .075], [935, .04],
];
const SPEC_AZV456 = [
  [381, .13], [385, .17], [390, .22], [395, .28], [398, .33], [402, .38], [403, .35], [404, .4], [406, .44], [410, .4],
  [413, .5], [420, .57], [428, .63], [434, .58], [437, .67], [445, .73], [447, .7], [449, .75], [455, .78], [465, .84],
  [470, .86], [471, .83], [473, .87], [480, .9], [485, .92], [487, .67], [489, .93], [495, .95], [500, .95], [505, .94],
  [512, .95], [520, .94], [530, .92], [540, .9], [548, .88], [556, .85], [566, .82], [576, .79], [584, .76], [587, .62],
  [590, .74], [600, .72], [612, .69], [624, .66], [636, .63], [648, .6], [656, .57], [662, .56], [672, .53], [680, .51],
  [686, .45], [690, .5], [700, .52], [712, .5], [720, .47], [724, .48], [736, .45], [745, .42], [752, .38], [756, .3],
  [759, .08], [762, .14], [765, .27], [775, .32], [785, .33], [795, .3], [805, .29], [815, .27], [822, .25], [826, .265],
  [835, .24], [845, .225], [848, .21], [851, .225], [855, .2], [859, .215], [865, .19], [869, .2], [875, .18], [880, .185],
  [886, .16], [890, .17], [897, .14], [901, .13], [906, .135], [912, .1], [918, .095], [922, .08], [930, .05],
];
const SPEC_HD36982 = [
  [379, .12], [382, .17], [385, .2], [388, .25], [391, .27], [394, .3], [397, .2], [400, .38], [402, .4], [403, .37],
  [404, .44], [408, .48], [410, .4], [412, .5], [418, .56], [424, .61], [430, .65], [434, .5], [437, .68], [442, .7],
  [446, .72], [447, .68], [449, .73], [454, .77], [460, .83], [466, .87], [470, .89], [471, .86], [473, .9], [478, .92],
  [483, .93], [485, .6], [487, .22], [489, .6], [491, .93], [495, .94], [500, .95], [505, .95], [512, .96], [520, .96],
  [530, .96], [540, .95], [550, .94], [560, .92], [568, .9], [575, .87], [580, .84], [585, .83], [588, .78], [591, .82],
  [600, .8], [612, .78], [622, .76], [632, .73], [642, .69], [650, .66], [655, .6], [657, .45], [660, .6], [668, .63],
  [678, .61], [684, .58], [687, .5], [690, .55], [697, .53], [707, .53], [717, .51], [721, .49], [724, .5], [737, .49],
  [747, .47], [754, .45], [757, .3], [760, .07], [763, .2], [766, .4], [772, .41], [782, .4], [792, .37], [802, .34],
  [812, .31], [820, .29], [824, .27], [828, .285], [836, .27], [845, .26], [848, .245], [851, .26], [856, .24], [860, .25],
  [865, .225], [870, .235], [876, .21], [880, .215], [886, .19], [890, .18], [896, .16], [900, .15], [903, .13], [907, .14],
  [912, .12], [920, .1], [928, .08], [933, .05],
];
const SPEC_HD37021 = [
  [381, .07], [385, .08], [390, .1], [395, .12], [400, .15], [404, .2], [408, .27], [411, .31], [416, .36], [422, .42],
  [428, .46], [433, .48], [435, .36], [437, .49], [445, .52], [447, .5], [449, .53], [455, .55], [465, .57], [471, .56],
  [472, .58], [480, .6], [485, .61], [487, .52], [489, .61], [494, .63], [495.9, .75], [497, .63], [500, .64], [500.7, .97],
  [502, .64], [507, .65], [515, .66], [525, .66], [535, .66], [545, .65], [555, .64], [565, .63], [575, .61], [583, .6],
  [587, .56], [590, .59], [600, .57], [610, .55], [620, .54], [632, .53], [642, .52], [650, .51], [655, .51], [656, .82],
  [657, .51], [665, .5], [675, .49], [683, .48], [686, .42], [690, .46], [697, .47], [705, .47], [715, .46], [720, .44],
  [724, .45], [735, .42], [745, .38], [752, .35], [757, .3], [760, .07], [763, .2], [767, .31], [775, .3], [790, .3],
  [805, .29], [815, .28], [822, .25], [828, .27], [836, .255], [845, .245], [848, .23], [851, .245], [858, .235], [862, .22],
  [866, .235], [872, .225], [876, .21], [882, .215], [888, .195], [892, .2], [898, .17], [903, .16], [908, .15], [915, .12],
  [925, .1], [931, .07],
];
const SPEC_HD37061 = [
  [380, .05], [383, .12], [386, .17], [390, .22], [394, .26], [397, .2], [400, .29], [404, .33], [408, .35], [410, .3],
  [412, .37], [418, .42], [425, .47], [430, .5], [434, .4], [436, .53], [442, .58], [446, .62], [447, .58], [449, .63],
  [458, .7], [466, .75], [474, .79], [480, .82], [484, .84], [486, .6], [488, .84], [494, .86], [500, .89], [505, .9],
  [512, .92], [520, .93], [530, .94], [540, .95], [550, .95], [560, .95], [568, .94], [575, .92], [582, .9], [587, .83],
  [590, .88], [598, .87], [606, .86], [616, .84], [624, .82], [628, .74], [631, .8], [640, .79], [648, .78], [654, .76],
  [656, .66], [658, .75], [666, .75], [672, .74], [680, .72], [684, .66], [687, .51], [690, .68], [696, .72], [705, .7],
  [712, .68], [718, .66], [722, .63], [726, .65], [735, .65], [745, .62], [752, .59], [756, .54], [758, .3], [760, .08],
  [763, .3], [766, .5], [772, .52], [782, .5], [792, .48], [802, .45], [812, .42], [820, .4], [822, .35], [826, .38],
  [838, .36], [845, .35], [848, .33], [851, .35], [856, .34], [860, .32], [864, .335], [868, .31], [872, .3], [876, .285],
  [880, .29], [886, .26], [890, .25], [896, .22], [900, .19], [906, .2], [912, .19], [917, .18], [922, .17], [926, .12],
  [930, .08],
];
const SPEC_HD38029 = [
  [380, .07], [385, .12], [390, .16], [395, .2], [398, .23], [401, .25], [406, .3], [410, .33], [414, .37], [420, .41],
  [428, .47], [434, .45], [436, .55], [442, .6], [446, .64], [447, .61], [449, .66], [458, .73], [466, .77], [474, .81],
  [480, .84], [486, .86], [488, .82], [492, .9], [498, .93], [502, .9], [505, .93], [512, .94], [520, .95], [530, .95],
  [540, .95], [550, .94], [560, .92], [570, .9], [578, .87], [584, .85], [588, .76], [591, .84], [600, .82], [610, .78],
  [620, .75], [627, .73], [629, .68], [632, .72], [640, .71], [648, .7], [655, .7], [656.5, .92], [658, .71], [665, .68],
  [668, .58], [671, .66], [680, .64], [684, .62], [686, .43], [689, .58], [694, .62], [702, .6], [712, .57], [720, .55],
  [728, .52], [736, .49], [745, .46], [752, .44], [756, .38], [758, .2], [760, .03], [763, .25], [767, .42], [775, .4],
  [785, .37], [795, .34], [805, .32], [815, .3], [825, .29], [835, .28], [842, .27], [848, .255], [852, .265], [858, .24],
  [862, .25], [868, .225], [872, .23], [878, .205], [884, .2], [890, .175], [895, .16], [899, .145], [903, .15], [910, .135],
  [915, .125], [922, .11], [930, .06],
];

// ---------------- model fits [nm, value] ----------------
const FIT_AZV18_P = [[380, .41], [400, .42], [450, .425], [500, .41], [550, .395], [600, .375], [650, .355], [700, .335], [750, .315], [800, .295], [850, .28], [900, .26], [920, .25]];
const FIT_AZV18_T = [[380, 106], [500, 105.5], [600, 105.1], [700, 104.8], [800, 104.4], [920, 104.0]];
const FIT_AZV456_P = [[380, 1.24], [400, 1.26], [450, 1.29], [500, 1.31], [550, 1.32], [600, 1.33], [700, 1.325], [800, 1.31], [850, 1.295], [900, 1.28], [920, 1.275]];
const FIT_AZV456_T = [[380, 162.1], [500, 161.7], [600, 161.4], [700, 161.1], [800, 160.8], [920, 160.5]];
const FIT_HD36982_P = [[380, .53], [400, .57], [450, .64], [500, .675], [550, .69], [600, .69], [650, .675], [700, .645], [750, .615], [800, .58], [850, .55], [900, .515], [920, .50]];
const FIT_HD36982_T = [[380, 64], [450, 62.5], [500, 61.3], [600, 59], [700, 56.5], [800, 53.5], [900, 50.5], [920, 50]];
const FIT_HD37021_P = [[380, .2], [450, .27], [500, .31], [550, .34], [600, .37], [650, .395], [700, .42], [750, .44], [800, .455], [850, .46], [900, .465], [920, .465]];
const FIT_HD37021_T = [[380, 94], [450, 98], [500, 100], [600, 102.5], [700, 105], [800, 108.5], [900, 112.5], [920, 113]];
const FIT_HD37061_P = [[380, 1.0], [400, 1.1], [450, 1.32], [500, 1.46], [550, 1.56], [600, 1.62], [650, 1.665], [700, 1.68], [750, 1.675], [800, 1.645], [850, 1.6], [900, 1.54], [920, 1.51]];
const FIT_HD37061_T = [[380, 64.9], [500, 62.9], [600, 61.2], [700, 59.7], [800, 57.9], [900, 55.7], [920, 55.0]];
const FIT_HD38029_P = [[380, 1.74], [400, 1.79], [450, 1.855], [500, 1.885], [550, 1.88], [600, 1.85], [650, 1.81], [700, 1.76], [750, 1.68], [800, 1.59], [850, 1.51], [900, 1.45], [920, 1.42]];
const FIT_HD38029_T = [[380, 104.6], [500, 104.9], [600, 105.1], [700, 105.3], [800, 105.5], [920, 105.8]];

// ---------------- axis ticks ----------------
const X_TICKS = [380, 400, 420, 440, 460, 480, 500, 520, 540, 560, 580, 600, 620, 640, 660, 680, 700, 720, 740, 760, 780, 800, 820, 840, 860, 880, 900, 920];
const X_MAJOR = [400, 500, 600, 700, 800, 900];

// ---------------- titles ----------------
const TITLES = [
  { name: "AzV18", date: "2015-10-14", nx: 204, dx: 285, y: 263 },
  { name: "AzV456", date: "2015-10-14", nx: 833.5, dx: 923, y: 263 },
  { name: "HD36982", date: "2015-10-17", nx: 204, dx: 311, y: 849 },
  { name: "HD37021", date: "2015-10-17", nx: 833.5, dx: 938.5, y: 849 },
  { name: "HD37061", date: "2015-10-14", nx: 202, dx: 306.5, y: 1436 },
  { name: "HD38029", date: "2015-10-14", nx: 824, dx: 929, y: 1436 },
];

// ---------------- layout ----------------
const COL_L = { left: 62, width: 511, xMax: 940 };
const COL_R = { left: 691, width: 508, xMax: 937 };
const COL_LB = { left: 58, width: 511, xMax: 940 };
const COL_RB = { left: 681, width: 511, xMax: 940 };
const ROWS = [
  { top: 1, height: 245 }, { top: 283, height: 245 }, { top: 588, height: 244 },
  { top: 870, height: 245 }, { top: 1174, height: 244 }, { top: 1457, height: 244 },
];

const PANELS: any[] = [
  { col: COL_L, row: 0, kind: "P", yMin: -0.1, yMax: 1.4, minor: 0.1, major: 0.5, nameX: 13, wlB: WL5, b: AZV18_P_B, be: AZV18_P_BE, wlR: WL5R, r: AZV18_P_R, re: AZV18_P_RE, spec: SPEC_AZV18, fit: FIT_AZV18_P },
  { col: COL_R, row: 0, kind: "P", yMin: 0.7, yMax: 2.2, minor: 0.1, major: 0.5, nameX: 642, wlB: WL5, b: AZV456_P_B, be: AZV456_P_BE, wlR: WL5R, r: AZV456_P_R, re: AZV456_P_RE, spec: SPEC_AZV456, fit: FIT_AZV456_P },
  { col: COL_L, row: 1, kind: "T", yMin: 70, yMax: 150, minor: 5, major: 10, nameX: 12, wlB: WL5, b: AZV18_T_B, be: AZV18_T_BE, wlR: WL5R, r: AZV18_T_R, re: AZV18_T_RE, spec: SPEC_AZV18, fit: FIT_AZV18_T },
  { col: COL_R, row: 1, kind: "T", yMin: 140, yMax: 180, minor: 5, major: 10, nameX: 638, wlB: WL5, b: AZV456_T_B, be: AZV456_T_BE, wlR: WL5R, r: AZV456_T_R, re: AZV456_T_RE, spec: SPEC_AZV456, fit: FIT_AZV456_T },
  { col: COL_L, row: 2, kind: "P", yMin: -0.2, yMax: 1.3, minor: 0.1, major: 0.5, nameX: 13, wlB: WL5, b: HD36982_P_B, be: HD36982_P_BE, wlR: WL5R, r: HD36982_P_R, re: HD36982_P_RE, spec: SPEC_HD36982, fit: FIT_HD36982_P },
  { col: COL_R, row: 2, kind: "P", yMin: -0.1, yMax: 1.4, minor: 0.1, major: 0.5, nameX: 642, wlB: WL5, b: HD37021_P_B, be: HD37021_P_BE, wlR: WL5R, r: HD37021_P_R, re: HD37021_P_RE, spec: SPEC_HD37021, fit: FIT_HD37021_P },
  { col: COL_L, row: 3, kind: "T", yMin: 0, yMax: 120, minor: 5, major: 10, nameX: 12, wlB: WL5, b: HD36982_T_B, be: HD36982_T_BE, wlR: WL5R, r: HD36982_T_R, re: HD36982_T_RE, spec: SPEC_HD36982, fit: FIT_HD36982_T },
  { col: COL_R, row: 3, kind: "T", yMin: 50, yMax: 170, minor: 5, major: 10, nameX: 638, wlB: WL5, b: HD37021_T_B, be: HD37021_T_BE, wlR: WL5R, r: HD37021_T_R, re: HD37021_T_RE, spec: SPEC_HD37021, fit: FIT_HD37021_T },
  { col: COL_LB, row: 4, kind: "P", yMin: 0.7, yMax: 2.2, minor: 0.1, major: 0.5, nameX: 13.5, wlB: WL10B, b: HD37061_P_B, be: HD37061_P_BE, wlR: WL10R, r: HD37061_P_R, re: HD37061_P_RE, spec: SPEC_HD37061, fit: FIT_HD37061_P },
  { col: COL_RB, row: 4, kind: "P", yMin: 1.1, yMax: 2.6, minor: 0.1, major: 0.5, nameX: 633, wlB: WL10B, b: HD38029_P_B, be: HD38029_P_BE, wlR: WL10R, r: HD38029_P_R, re: HD38029_P_RE, spec: SPEC_HD38029, fit: FIT_HD38029_P },
  { col: COL_LB, row: 5, kind: "T", yMin: 40, yMax: 79.8, minor: 5, major: 10, nameX: 15, wlB: WL10B, b: HD37061_T_B, be: HD37061_T_BE, wlR: WL10R, r: HD37061_T_R, re: HD37061_T_RE, spec: SPEC_HD37061, fit: FIT_HD37061_T },
  { col: COL_RB, row: 5, kind: "T", yMin: 90, yMax: 129.5, minor: 5, major: 10, nameX: 633, wlB: WL10B, b: HD38029_T_B, be: HD38029_T_BE, wlR: WL10R, r: HD38029_T_R, re: HD38029_T_RE, spec: SPEC_HD38029, fit: FIT_HD38029_T },
];

const BLUE = "#1414f2";
const RED_T = "#ff1414";
const RED_P = "#f25a5a";
const GREEN = "#38e038";
const YELLOW = "#f4f400";
const TITLE_BLUE = "#2020e6";
const SANS = "'Liberation Sans', Arial, sans-serif";
const SERIF = "'Liberation Serif', 'DejaVu Serif', serif";
const MONO = "'DejaVu Sans Mono', 'Liberation Mono', monospace";

function zip(wl: number[], v: number[], e: number[]) {
  const out: number[][] = [];
  for (let i = 0; i < wl.length; i++) {
    if (v[i] == null) continue;
    out.push([wl[i], v[i], e && e[i] != null ? e[i] : 0]);
  }
  return out;
}

function stepsIn(min: number, max: number, step: number, inclusiveEdges: boolean) {
  const out: number[] = [];
  const s = Math.ceil(min / step - 1e-9);
  for (let k = s; k * step <= max + 1e-9; k++) {
    const v = +(k * step).toFixed(4);
    if (!inclusiveEdges && (v <= min + 1e-9 || v >= max - 1e-9)) continue;
    out.push(v);
  }
  return out;
}

const isMult = (v: number, m: number) => Math.abs(v / m - Math.round(v / m)) < 1e-6;

const renderGrid = (params: any, api: any) => {
  const cs = params.coordSys;
  const p = api.coord([api.value(0), api.value(1)]);
  if (api.value(2) === 0) {
    return { type: "line", shape: { x1: p[0], y1: cs.y, x2: p[0], y2: cs.y + cs.height }, style: { stroke: YELLOW, lineWidth: 1 } };
  }
  return { type: "line", shape: { x1: cs.x, y1: p[1], x2: cs.x + cs.width, y2: p[1] }, style: { stroke: YELLOW, lineWidth: 1 } };
};

const renderTicks = (params: any, api: any) => {
  const cs = params.coordSys;
  const kind = api.value(2);
  if (kind === 2) {
    return { type: "rect", shape: { x: cs.x, y: cs.y, width: cs.width, height: cs.height }, style: { fill: "none", stroke: "#111", lineWidth: 1.5 } };
  }
  const major = api.value(3) === 1;
  const len = major ? 9 : 5;
  const lw = major ? 1.4 : 1;
  const pt = api.coord([api.value(0), api.value(1)]);
  if (kind === 0) {
    const x = pt[0], b = cs.y + cs.height, t = cs.y;
    return {
      type: "group",
      children: [
        { type: "line", shape: { x1: x, y1: b, x2: x, y2: b - len }, style: { stroke: "#111", lineWidth: lw } },
        { type: "line", shape: { x1: x, y1: t, x2: x, y2: t + len }, style: { stroke: "#111", lineWidth: lw } },
      ],
    };
  }
  const y = pt[1], l = cs.x, r = cs.x + cs.width;
  return {
    type: "group",
    children: [
      { type: "line", shape: { x1: l, y1: y, x2: l + len, y2: y }, style: { stroke: "#111", lineWidth: lw } },
      { type: "line", shape: { x1: r, y1: y, x2: r - len, y2: y }, style: { stroke: "#111", lineWidth: lw } },
    ],
  };
};

const errRender = (color: string, lw: number) => (params: any, api: any) => {
  const x = api.value(0), v = api.value(1), e = api.value(2);
  const a = api.coord([x, v + e]);
  const b = api.coord([x, v - e]);
  const w = 3;
  return {
    type: "group",
    children: [
      { type: "line", shape: { x1: a[0], y1: a[1], x2: b[0], y2: b[1] }, style: { stroke: color, lineWidth: lw } },
      { type: "line", shape: { x1: a[0] - w, y1: a[1], x2: a[0] + w, y2: a[1] }, style: { stroke: color, lineWidth: lw } },
      { type: "line", shape: { x1: b[0] - w, y1: b[1], x2: b[0] + w, y2: b[1] }, style: { stroke: color, lineWidth: lw } },
    ],
  };
};

function buildOption() {
  const grid: any[] = [], xAxis: any[] = [], yAxis: any[] = [], series: any[] = [], graphic: any[] = [];

  PANELS.forEach((p, i) => {
    const row = ROWS[p.row];
    const xMin = 370, xMax = p.col.xMax;
    const showX = p.kind === "T";
    grid.push({ left: p.col.left, top: row.top, width: p.col.width, height: row.height, show: false });
    xAxis.push({
      type: "value", gridIndex: i, min: xMin, max: xMax, interval: 10,
      axisLine: { show: false }, axisTick: { show: false }, splitLine: { show: false },
      axisLabel: {
        show: showX, margin: 6, fontSize: 17, fontFamily: SANS, color: "#000",
        formatter: (v: number) => (isMult(v, 100) && v >= 400 && v <= 900 ? String(Math.round(v)) : ""),
      },
    });
    yAxis.push({
      type: "value", gridIndex: i, min: p.yMin, max: p.yMax, interval: p.minor,
      axisLine: { show: false }, axisTick: { show: false }, splitLine: { show: false },
      axisLabel: {
        margin: 8, fontSize: 17, fontFamily: SANS, color: "#000",
        formatter: (v: number) => {
          if (!isMult(v, p.major)) return "";
          const val = +(Math.round(v / p.major) * p.major).toFixed(3);
          return String(val === 0 ? 0 : val);
        },
      },
    });

    const base = { xAxisIndex: i, yAxisIndex: i, silent: true, animation: false };

    // yellow grid
    const gl: number[][] = [];
    X_MAJOR.forEach((v) => gl.push([v, p.yMin, 0]));
    stepsIn(p.yMin, p.yMax, p.major, false).forEach((v) => gl.push([xMin, v, 1]));
    series.push({ ...base, type: "custom", z: 1, clip: false, data: gl, renderItem: renderGrid, encode: { x: 0, y: 1 } });

    // spectrum
    const yr = p.yMax - p.yMin;
    series.push({
      ...base, type: "line", z: 2, symbol: "none", showSymbol: false, clip: true,
      data: p.spec.map((q: number[]) => [q[0], p.yMin + q[1] * yr]),
      lineStyle: { color: GREEN, width: 1 },
    });

    const addSet = (wl: number[], v: number[], e: number[], color: string, lw: number, size: number, z: number) => {
      const pts = zip(wl, v, e);
      series.push({ ...base, type: "custom", z, clip: true, data: pts, renderItem: errRender(color, lw), encode: { x: 0, y: 1 } });
      series.push({
        ...base, type: "line", z, clip: true,
        data: pts.map((q) => [q[0], q[1]]),
        symbol: "circle", symbolSize: size, showSymbol: true,
        itemStyle: { color: "rgba(255,255,255,0)", borderColor: color, borderWidth: lw },
        lineStyle: { color, width: lw },
      });
    };
    if (p.kind === "P") {
      addSet(p.wlR, p.r, p.re, RED_P, 1, 7, 3);
      addSet(p.wlB, p.b, p.be, BLUE, 1.5, 8, 4);
    } else {
      addSet(p.wlB, p.b, p.be, BLUE, 1.5, 8, 3);
      addSet(p.wlR, p.r, p.re, RED_T, 1.5, 8, 4);
    }

    // model fit
    series.push({
      ...base, type: "line", z: 5, symbol: "none", smooth: true, clip: true,
      data: p.fit, lineStyle: { color: "#000", width: 1.6 },
    });

    // ticks + frame
    const tk: number[][] = [];
    X_TICKS.forEach((v) => tk.push([v, p.yMin, 0, v % 100 === 0 ? 1 : 0]));
    stepsIn(p.yMin, p.yMax, p.minor, false).forEach((v) => tk.push([xMin, v, 1, isMult(v, p.major) ? 1 : 0]));
    tk.push([xMin, p.yMin, 2, 0]);
    series.push({ ...base, type: "custom", z: 6, clip: false, data: tk, renderItem: renderTicks, encode: { x: 0, y: 1 } });

    // y-axis name
    const cy = row.top + row.height / 2;
    graphic.push({
      type: "text", x: p.nameX, y: cy, rotation: Math.PI / 2, silent: true,
      style: {
        text: p.kind === "P" ? "{i|P}  (%)" : "{i|θ}ᴱ  (DEG)",
        fontSize: 18, fontFamily: SERIF, fill: "#000",
        align: "center", verticalAlign: "middle", textAlign: "center", textVerticalAlign: "middle",
        rich: { i: { fontStyle: "italic", fontSize: 20, fontFamily: SERIF, fill: "#000" } },
      },
    });
    // x-axis name
    if (showX) {
      const xy = [562, 1147, 1735][(p.row - 1) / 2];
      graphic.push({
        type: "text", x: p.col.left + p.col.width / 2, y: xy, silent: true,
        style: {
          text: "WAVELENGTH (nm)", fontSize: 17, fontFamily: SERIF, fill: "#000",
          align: "center", verticalAlign: "middle", textAlign: "center", textVerticalAlign: "middle",
        },
      });
    }
  });

  TITLES.forEach((t) => {
    [[t.name, t.nx], [t.date, t.dx]].forEach(([txt, x]) => {
      graphic.push({
        type: "text", x, y: t.y, silent: true,
        style: {
          text: txt, fontSize: 18, fontFamily: MONO, fill: TITLE_BLUE,
          align: "left", verticalAlign: "middle", textAlign: "left", textVerticalAlign: "middle",
        },
      });
    });
  });

  return { animation: false, backgroundColor: "#fff", grid, xAxis, yAxis, series, graphic };
}

export default function App() {
  const ref = useRef<HTMLDivElement>(null);
  useEffect(() => {
    if (!ref.current) return;
    const chart = echarts.init(ref.current, null, { renderer: "svg" });
    chart.setOption(buildOption());
    return () => chart.dispose();
  }, []);
  return <div ref={ref} style={{ position: "absolute", left: 0, top: 0, width: 1200, height: 1744, background: "#fff" }} />;
}
